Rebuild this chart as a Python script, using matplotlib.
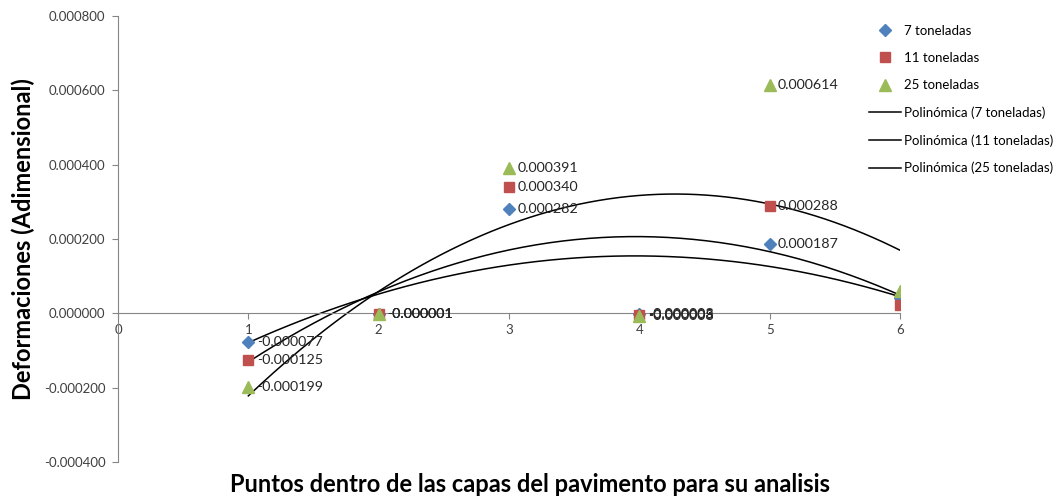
import numpy as np
import matplotlib
matplotlib.use("Agg")
import matplotlib.pyplot as plt

plt.rcParams['font.family'] = ['Lato', 'DejaVu Sans']

BLUE = "#4F81BD"; RED = "#C0504D"; GREEN = "#9BBB59"; AX = "#868686"

x = [1, 2, 3, 4, 5, 6]
t7 = [-0.000077, -0.000001, 0.000282, -0.000003, 0.000187, 0.000040]
t11 = [-0.000125, -0.000001, 0.000340, -0.000005, 0.000288, 0.000022]
t25 = [-0.000199, -0.000001, 0.000391, -0.000008, 0.000614, 0.000060]
names = ["7 toneladas", "11 toneladas", "25 toneladas"]
labelled = [0, 1, 2, 3, 4]  # points with value labels (x=6 has none)

fig = plt.figure(figsize=(10.59, 5.0), dpi=100)
ax = fig.add_axes([0.1114, 0.076, 0.7386, 0.892])

series = [(t7, BLUE, "D", 6), (t11, RED, "s", 7.5), (t25, GREEN, "^", 8.5)]
for (vals, col, mk, ms), nm in zip(series, names):
    ax.plot(x, vals, ls="none", marker=mk, color=col, ms=ms, mec=col, label=nm, zorder=3)
    for i in labelled:
        ax.annotate(f"{vals[i]:.6f}", (x[i], vals[i]), xytext=(6, 0), textcoords="offset points",
                    ha="left", va="center", fontsize=10.3, color="#262626", zorder=4)

xs = np.linspace(1, 6, 200)
for vals, nm in zip([t7, t11, t25], names):
    c = np.polyfit(x, vals, 2)
    ax.plot(xs, np.polyval(c, xs), color="black", lw=1.1, label=f"Polinómica ({nm})", zorder=2)

ax.set_xlim(0, 6)
ax.set_ylim(-0.0004, 0.0008)
ax.set_yticks(np.arange(-0.0004, 0.00081, 0.0002))
ax.yaxis.set_major_formatter(matplotlib.ticker.FuncFormatter(lambda v, p: f"{v:.6f}"))
ax.set_xticks(range(0, 7))
ax.spines["top"].set_visible(False)
ax.spines["right"].set_visible(False)
ax.spines["bottom"].set_position(("data", 0))
for s in ("left", "bottom"):
    ax.spines[s].set_color(AX)
ax.tick_params(axis="y", direction="out", length=4, color=AX, labelsize=9.5, labelcolor="#404040", pad=5)
ax.tick_params(axis="x", direction="out", length=4, color=AX, labelsize=9.5, labelcolor="#404040")

ax.set_ylabel("Deformaciones (Adimensional)", fontsize=17, fontweight="bold", labelpad=6)
fig.text(0.5, 0.03, "Puntos dentro de las capas del pavimento para su analisis",
         ha="center", va="center", fontsize=17, fontweight="bold")

ax.legend(loc="upper left", bbox_to_anchor=(0.96, 0.98), frameon=False, fontsize=9.5,
          handlelength=2.4, labelspacing=1.15, handletextpad=0.3, borderaxespad=0, borderpad=0)

fig.savefig("out.png", dpi=100)
